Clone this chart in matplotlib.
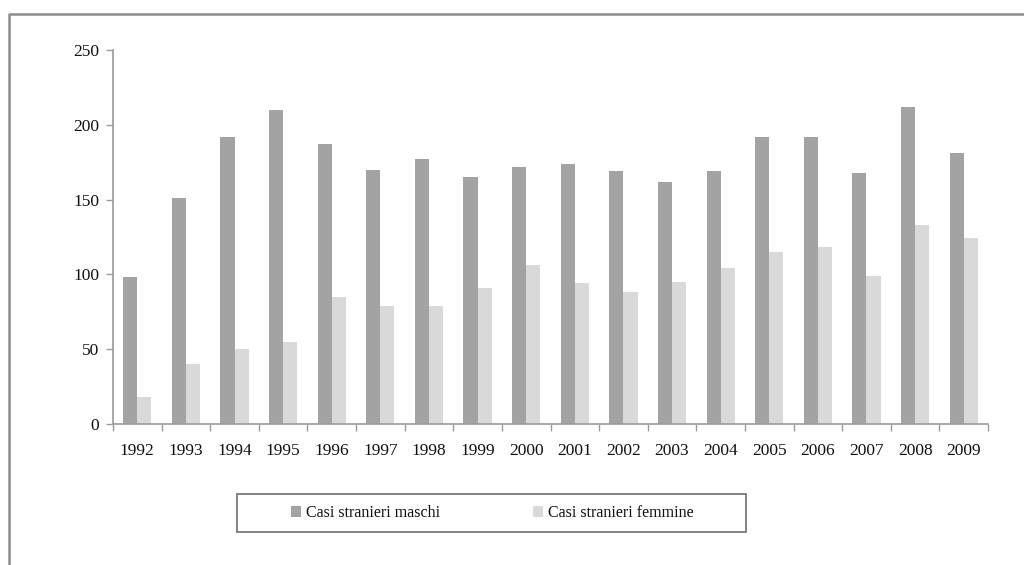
import matplotlib
matplotlib.use("Agg")
import matplotlib.pyplot as plt
from matplotlib.lines import Line2D
from matplotlib.patches import Rectangle, Patch
import numpy as np

years = ["1992", "1993", "1994", "1995", "1996", "1997", "1998", "1999", "2000",
         "2001", "2002", "2003", "2004", "2005", "2006", "2007", "2008", "2009"]
maschi = [98, 151, 192, 210, 187, 170, 177, 165, 172,
          174, 169, 162, 169, 192, 192, 168, 212, 181]
femmine = [18, 40, 50, 55, 85, 79, 79, 91, 106,
           94, 88, 95, 104, 115, 118, 99, 133, 124]
series_labels = ["Casi stranieri maschi", "Casi stranieri femmine"]
y_ticks = [0, 50, 100, 150, 200, 250]

C_MASCHI = "#a3a3a3"
C_FEMMINE = "#d9d9d9"
AXIS_GRAY = "#9a9a9a"

plt.rcParams["font.family"] = ["Liberation Serif", "DejaVu Serif"]

W, H = 1024, 565
fig = plt.figure(figsize=(W / 100, H / 100), dpi=100)
fig.patch.set_facecolor("white")

ax = fig.add_axes([113 / W, 1 - 424 / H, (988 - 113) / W, (424 - 50) / H])

x = np.arange(len(years))
bw = 0.29
ax.bar(x - bw / 2, maschi, width=bw, color=C_MASCHI, linewidth=0)
ax.bar(x + bw / 2, femmine, width=bw, color=C_FEMMINE, linewidth=0)

ax.set_xlim(-0.5, len(years) - 0.5)
ax.set_ylim(0, 250)
ax.set_yticks(y_ticks)
ax.set_yticklabels([str(v) for v in y_ticks])
ax.set_xticks(x)
ax.set_xticklabels(years)
ax.set_xticks(np.arange(len(years) + 1) - 0.5, minor=True)

for s in ("top", "right"):
    ax.spines[s].set_visible(False)
for s in ("left", "bottom"):
    ax.spines[s].set_color(AXIS_GRAY)
    ax.spines[s].set_linewidth(1.2)

ax.tick_params(axis="x", which="major", length=0, pad=14, labelsize=12.5, colors="#111111")
ax.tick_params(axis="x", which="minor", length=5, width=1.0, color=AXIS_GRAY, direction="out")
ax.tick_params(axis="y", which="major", length=5, width=1.0, color=AXIS_GRAY,
               direction="out", pad=5, labelsize=12.5, labelcolor="#111111")

# outer chart frame
fig.add_artist(Line2D([9 / W, 9 / W, 1.0], [0.0, 1 - 14 / H, 1 - 14 / H],
                      transform=fig.transFigure, color="#8c8c8c", linewidth=1.8))

# legend box
fig.add_artist(Rectangle((237 / W, 1 - 532 / H), (746 - 237) / W, (532 - 494) / H,
                         transform=fig.transFigure, facecolor="white",
                         edgecolor="#7a7a7a", linewidth=1.3))
handles = [Patch(facecolor=C_MASCHI, edgecolor="none"),
           Patch(facecolor=C_FEMMINE, edgecolor="none")]
fig.legend(handles, series_labels, loc="center", bbox_to_anchor=(492 / W, 1 - 513 / H),
           ncol=2, frameon=False, fontsize=11.5, handlelength=0.65, handleheight=0.65,
           handletextpad=0.3, columnspacing=5.8, borderpad=0, labelcolor="#111111")

fig.savefig("out.png", dpi=100, facecolor="white")
